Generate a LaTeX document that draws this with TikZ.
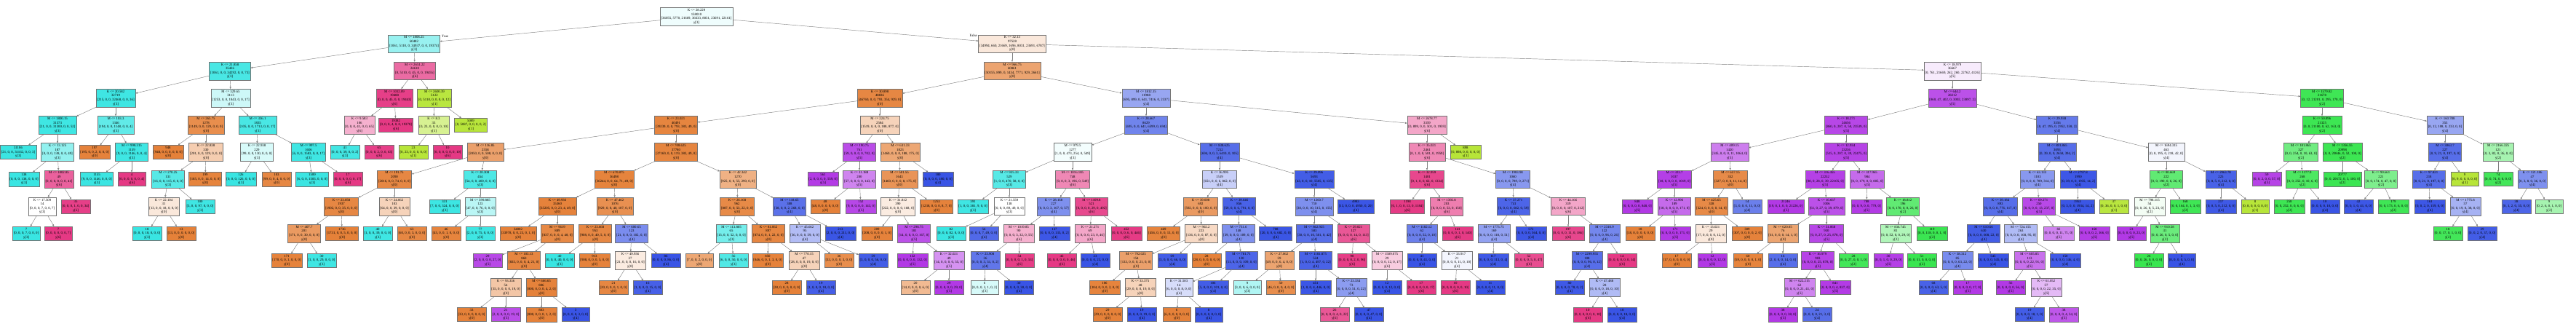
\documentclass[tikz,border=0pt]{standalone}
\usepackage{fontspec}
\setmainfont{Liberation Serif}
\usepackage{tikz}
\usetikzlibrary{arrows.meta}
\definecolor{dtc0}{RGB}{229,129,57}
\definecolor{dtc1}{RGB}{183,229,57}
\definecolor{dtc2}{RGB}{57,229,80}
\definecolor{dtc3}{RGB}{57,229,226}
\definecolor{dtc4}{RGB}{57,84,229}
\definecolor{dtc5}{RGB}{178,57,229}
\definecolor{dtc6}{RGB}{229,57,132}
\newcommand{\splitlbl}[4]{#1\\#2\\{[#3]}\\y[#4]}
\newcommand{\leaflbl}[3]{#1\\{[#2]}\\y[#3]}
\tikzset{
    dtbox/.style={rectangle, draw=black!55, line width=0.4pt, align=center, inner xsep=1.6pt, inner ysep=1.8pt, font=\fontsize{4.8}{5.6}\selectfont},
    tint/.style 2 args={fill=dtc#1!#2},
    dtedge/.style={draw=black!50, line width=0.45pt, -{Triangle[length=2.6pt,width=2.2pt]}},
    sidelbl/.style={font=\fontsize{4.8}{5.6}\selectfont, inner sep=0pt},
}
\begin{document}
\begin{tikzpicture}[x=1pt, y=-37.2pt]
\useasboundingbox (0,-0.618) rectangle (3540,11.64);

% root
\node[dtbox, tint={3}{8}] (n) at (957,0) {\splitlbl{K <= 28.229}{158010}{36055, 5770, 21669, 36633, 8031, 23691, 22161}{3}};

% ---- True branch
\node[dtbox, tint={3}{52}] (nl) at (569,1) {\splitlbl{M <= 1808.25}{60482}{1061, 5110, 0, 34937, 0, 0, 19374}{3}};
\node[dtbox, tint={3}{92}] (nll) at (316,2) {\splitlbl{K <= 21.858}{35426}{1061, 0, 0, 34292, 0, 0, 73}{3}};
\node[dtbox, tint={3}{97}] (nlll) at (159,3) {\splitlbl{K <= 20.582}{32719}{215, 0, 0, 32468, 0, 0, 36}{3}};
\node[dtbox, tint={3}{97}] (nllll) at (79,4) {\splitlbl{M <= 1800.15}{31373}{21, 0, 0, 31300, 0, 0, 52}{3}};
\node[dtbox, tint={3}{99}] (nlllll) at (25,5) {\leaflbl{31186}{21, 0, 0, 31162, 0, 0, 3}{3}};
\node[dtbox, tint={3}{55}] (nllllr) at (79,5) {\splitlbl{K <= 13.125}{187}{0, 0, 0, 138, 0, 0, 49}{3}};
\node[dtbox, tint={3}{100}] (nllllrl) at (33,6) {\leaflbl{138}{0, 0, 0, 138, 0, 0, 0}{3}};
\node[dtbox, tint={6}{80}] (nllllrr) at (81,6) {\splitlbl{M <= 1802.85}{49}{0, 0, 0, 8, 0, 0, 41}{6}};
\node[dtbox, fill=white] (nllllrrl) at (58,7) {\splitlbl{K <= 17.509}{14}{0, 0, 0, 7, 0, 0, 7}{3}};
\node[dtbox, tint={3}{100}] (nllllrrll) at (36,8) {\leaflbl{7}{0, 0, 0, 7, 0, 0, 0}{3}};
\node[dtbox, tint={6}{100}] (nllllrrlr) at (80,8) {\leaflbl{7}{0, 0, 0, 0, 0, 0, 7}{6}};
\node[dtbox, tint={6}{97}] (nllllrrr) at (104,7) {\leaflbl{35}{0, 0, 0, 1, 0, 0, 34}{6}};
\node[dtbox, tint={3}{80}] (nlllr) at (159,4) {\splitlbl{M <= 103.3}{1346}{194, 0, 0, 1148, 0, 0, 4}{3}};
\node[dtbox, tint={0}{99}] (nlllrl) at (130,5) {\leaflbl{197}{195, 0, 0, 2, 0, 0, 0}{0}};
\node[dtbox, tint={3}{97}] (nlllrr) at (181,5) {\splitlbl{M <= 998.315}{1159}{9, 0, 0, 1146, 0, 0, 4}{3}};
\node[dtbox, tint={3}{99}] (nlllrrl) at (133,6) {\leaflbl{1155}{9, 0, 0, 1146, 0, 0, 0}{3}};
\node[dtbox, tint={6}{100}] (nlllrrr) at (181,6) {\leaflbl{4}{0, 0, 0, 0, 0, 0, 4}{6}};
\node[dtbox, tint={3}{25}] (nllr) at (317,3) {\splitlbl{M <= 329.65}{3113}{1253, 0, 0, 1843, 0, 0, 17}{3}};
\node[dtbox, tint={0}{90}] (nllrl) at (283,4) {\splitlbl{M <= 265.75}{1278}{1149, 0, 0, 129, 0, 0, 0}{0}};
\node[dtbox, tint={0}{100}] (nllrll) at (231,5) {\leaflbl{948}{948, 0, 0, 0, 0, 0, 0}{0}};
\node[dtbox, tint={0}{40}] (nllrlr) at (283,5) {\splitlbl{K <= 22.838}{330}{201, 0, 0, 129, 0, 0, 0}{0}};
\node[dtbox, tint={3}{85}] (nllrlrl) at (231,6) {\splitlbl{M <= 270.25}{131}{16, 0, 0, 115, 0, 0, 0}{3}};
\node[dtbox, tint={0}{18}] (nllrlrll) at (225,7) {\splitlbl{K <= 22.104}{31}{13, 0, 0, 18, 0, 0, 0}{0}};
\node[dtbox, tint={3}{100}] (nllrlrlll) at (202,8) {\leaflbl{18}{0, 0, 0, 18, 0, 0, 0}{3}};
\node[dtbox, tint={0}{100}] (nllrlrllr) at (249,8) {\leaflbl{13}{13, 0, 0, 0, 0, 0, 0}{0}};
\node[dtbox, tint={3}{97}] (nllrlrlr) at (275,7) {\leaflbl{100}{3, 0, 0, 97, 0, 0, 0}{3}};
\node[dtbox, tint={0}{98}] (nllrlrr) at (282,6) {\leaflbl{199}{185, 0, 0, 14, 0, 0, 0}{0}};
\node[dtbox, tint={3}{92}] (nllrr) at (354,4) {\splitlbl{M <= 336.1}{1835}{105, 0, 0, 1713, 0, 0, 17}{3}};
\node[dtbox, tint={3}{20}] (nllrrl) at (353,5) {\splitlbl{K <= 22.938}{229}{99, 0, 0, 130, 0, 0, 0}{3}};
\node[dtbox, tint={3}{100}] (nllrrll) at (331,6) {\leaflbl{126}{0, 0, 0, 126, 0, 0, 0}{3}};
\node[dtbox, tint={0}{95}] (nllrrlr) at (380,6) {\leaflbl{103}{99, 0, 0, 4, 0, 0, 0}{0}};
\node[dtbox, tint={3}{97}] (nllrrr) at (424,5) {\splitlbl{M <= 997.5}{1606}{6, 0, 0, 1583, 0, 0, 17}{3}};
\node[dtbox, tint={3}{99}] (nllrrrl) at (429,6) {\leaflbl{1589}{6, 0, 0, 1583, 0, 0, 0}{3}};
\node[dtbox, tint={6}{100}] (nllrrrr) at (478,6) {\leaflbl{17}{0, 0, 0, 0, 0, 0, 17}{6}};
\node[dtbox, tint={6}{75}] (nlr) at (570,2) {\splitlbl{M <= 2651.22}{24610}{0, 5110, 0, 45, 0, 0, 19455}{6}};
\node[dtbox, tint={6}{97}] (nlrl) at (542,3) {\splitlbl{M <= 1012.09}{19488}{0, 0, 0, 45, 0, 0, 19443}{6}};
\node[dtbox, tint={6}{40}] (nlrll) at (494,4) {\splitlbl{K <= 9.583}{106}{0, 0, 0, 41, 0, 0, 65}{6}};
\node[dtbox, tint={3}{95}] (nlrlll) at (474,5) {\leaflbl{41}{0, 0, 0, 39, 0, 0, 2}{3}};
\node[dtbox, tint={6}{97}] (nlrllr) at (521,5) {\leaflbl{65}{0, 0, 0, 2, 0, 0, 63}{6}};
\node[dtbox, tint={6}{100}] (nlrlr) at (544,4) {\leaflbl{19382}{0, 0, 0, 4, 0, 0, 19378}{6}};
\node[dtbox, tint={1}{97}] (nlrr) at (597,3) {\splitlbl{M <= 2600.39}{5122}{0, 5110, 0, 0, 0, 0, 12}{1}};
\node[dtbox, tint={1}{55}] (nlrrl) at (596,4) {\splitlbl{K <= 8.3}{33}{0, 23, 0, 0, 0, 0, 10}{1}};
\node[dtbox, tint={1}{100}] (nlrrll) at (568,5) {\leaflbl{23}{0, 23, 0, 0, 0, 0, 0}{1}};
\node[dtbox, tint={6}{100}] (nlrrlr) at (615,5) {\leaflbl{10}{0, 0, 0, 0, 0, 0, 10}{6}};
\node[dtbox, tint={1}{99}] (nlrrr) at (647,4) {\leaflbl{5089}{0, 5087, 0, 0, 0, 0, 2}{1}};

% ---- False branch
\node[dtbox, tint={0}{18}] (nr) at (1391,1) {\splitlbl{K <= 32.13}{97528}{34994, 660, 21669, 1696, 8031, 23691, 6787}{0}};
\node[dtbox, tint={0}{72}] (nrl) at (1391,2) {\splitlbl{M <= 966.75}{60861}{50155, 899, 0, 1434, 7771, 929, 2661}{0}};
\node[dtbox, tint={0}{95}] (nrll) at (1209,3) {\splitlbl{K <= 30.898}{48836}{46760, 0, 0, 793, 354, 929, 0}{0}};
\node[dtbox, tint={0}{97}] (nrlll) at (929,4) {\splitlbl{K <= 23.021}{40491}{39239, 0, 0, 793, 383, 49, 0}{0}};
\node[dtbox, tint={0}{75}] (nrllll) at (667,5) {\splitlbl{M <= 116.85}{2558}{2050, 0, 0, 508, 0, 0, 0}{0}};
\node[dtbox, tint={0}{95}] (nrlllll) at (542,6) {\splitlbl{M <= 191.75}{2090}{2016, 0, 0, 74, 0, 0, 0}{0}};
\node[dtbox, tint={0}{95}] (nrllllll) at (469,7) {\splitlbl{K <= 23.058}{1937}{1902, 0, 0, 35, 0, 0, 0}{0}};
\node[dtbox, tint={0}{80}] (nrlllllll) at (418,8) {\splitlbl{M <= 407.7}{201}{171, 0, 0, 30, 0, 0, 0}{0}};
\node[dtbox, tint={0}{99}] (nrllllllll) at (394,9) {\leaflbl{171}{170, 0, 0, 1, 0, 0, 0}{0}};
\node[dtbox, tint={3}{97}] (nrlllllllr) at (442,9) {\leaflbl{30}{1, 0, 0, 29, 0, 0, 0}{3}};
\node[dtbox, tint={0}{100}] (nrllllllr) at (470,8) {\leaflbl{1736}{1731, 0, 0, 5, 0, 0, 0}{0}};
\node[dtbox, tint={0}{35}] (nrlllllr) at (542,7) {\splitlbl{K <= 24.062}{103}{64, 0, 0, 39, 0, 0, 0}{0}};
\node[dtbox, tint={3}{97}] (nrlllllrl) at (519,8) {\leaflbl{40}{1, 0, 0, 39, 0, 0, 0}{3}};
\node[dtbox, tint={0}{95}] (nrlllllrr) at (566,8) {\leaflbl{63}{60, 0, 0, 3, 0, 0, 0}{0}};
\node[dtbox, tint={3}{90}] (nrllllr) at (660,6) {\splitlbl{K <= 20.308}{454}{54, 0, 0, 400, 0, 0, 0}{3}};
\node[dtbox, tint={3}{98}] (nrllllrl) at (611,7) {\leaflbl{331}{7, 0, 0, 324, 0, 0, 0}{3}};
\node[dtbox, tint={3}{35}] (nrllllrr) at (660,7) {\splitlbl{M <= 399.885}{123}{47, 0, 0, 76, 0, 0, 0}{3}};
\node[dtbox, tint={0}{98}] (nrllllrrl) at (613,8) {\leaflbl{46}{45, 0, 0, 1, 0, 0, 0}{0}};
\node[dtbox, tint={3}{97}] (nrllllrrr) at (660,8) {\leaflbl{77}{2, 0, 0, 75, 0, 0, 0}{3}};
\node[dtbox, tint={0}{97}] (nrlllr) at (929,5) {\splitlbl{M <= 708.625}{37780}{37169, 0, 0, 119, 383, 49, 0}{0}};
\node[dtbox, tint={0}{98}] (nrlllrl) at (844,6) {\splitlbl{M <= 670.875}{36498}{36244, 0, 0, 64, 71, 49, 0}{0}};
\node[dtbox, tint={0}{99}] (nrlllrll) at (766,7) {\splitlbl{K <= 49.936}{35360}{35205, 0, 0, 23, 4, 49, 0}{0}};
\node[dtbox, tint={0}{100}] (nrlllrlll) at (712,8) {\leaflbl{34002}{33978, 0, 0, 23, 0, 1, 0}{0}};
\node[dtbox, tint={0}{94}] (nrlllrllr) at (766,8) {\splitlbl{M <= 9619}{889}{837, 0, 0, 0, 4, 48, 0}{0}};
\node[dtbox, tint={5}{92}] (nrlllrllrl) at (670,9) {\leaflbl{29}{2, 0, 0, 0, 0, 27, 0}{5}};
\node[dtbox, tint={0}{96}] (nrlllrllrr) at (720,9) {\splitlbl{M <= 103.13}{860}{835, 0, 0, 0, 4, 21, 0}{0}};
\node[dtbox, tint={0}{45}] (nrlllrllrrl) at (695,10) {\splitlbl{K <= 93.336}{54}{35, 0, 0, 0, 0, 19, 0}{0}};
\node[dtbox, tint={0}{100}] (nrlllrllrrll) at (648,11) {\leaflbl{33}{33, 0, 0, 0, 0, 0, 0}{0}};
\node[dtbox, tint={5}{90}] (nrlllrllrrlr) at (695,11) {\leaflbl{21}{2, 0, 0, 0, 0, 19, 0}{5}};
\node[dtbox, tint={0}{99}] (nrlllrllrrr) at (744,10) {\splitlbl{M <= 666.65}{806}{800, 0, 0, 0, 4, 2, 0}{0}};
\node[dtbox, tint={0}{100}] (nrlllrllrrrl) at (744,11) {\leaflbl{803}{800, 0, 0, 0, 1, 2, 0}{0}};
\node[dtbox, tint={4}{100}] (nrlllrllrrrr) at (791,11) {\leaflbl{3}{0, 0, 0, 0, 3, 0, 0}{4}};
\node[dtbox, tint={0}{88}] (nrlllrlr) at (845,7) {\splitlbl{K <= 47.462}{1076}{929, 0, 0, 40, 107, 0, 0}{0}};
\node[dtbox, tint={0}{95}] (nrlllrlrl) at (818,8) {\splitlbl{K <= 23.668}{953}{908, 0, 0, 40, 5, 0, 0}{0}};
\node[dtbox, tint={3}{100}] (nrlllrlrll) at (769,9) {\leaflbl{40}{0, 0, 0, 40, 0, 0, 0}{3}};
\node[dtbox, tint={0}{99}] (nrlllrlrlr) at (817,9) {\leaflbl{913}{908, 0, 0, 0, 5, 0, 0}{0}};
\node[dtbox, tint={4}{67}] (nrlllrlrr) at (868,8) {\splitlbl{M <= 600.65}{123}{21, 0, 0, 0, 102, 0, 0}{4}};
\node[dtbox, tint={0}{15}] (nrlllrlrrl) at (866,9) {\splitlbl{K <= 49.936}{37}{21, 0, 0, 0, 16, 0, 0}{0}};
\node[dtbox, tint={0}{95}] (nrlllrlrrll) at (843,10) {\leaflbl{21}{20, 0, 0, 0, 1, 0, 0}{0}};
\node[dtbox, tint={4}{93}] (nrlllrlrrlr) at (890,10) {\leaflbl{16}{1, 0, 0, 0, 15, 0, 0}{4}};
\node[dtbox, tint={4}{100}] (nrlllrlrrr) at (915,9) {\leaflbl{86}{0, 0, 0, 0, 86, 0, 0}{4}};
\node[dtbox, tint={0}{62}] (nrlllrr) at (1014,6) {\splitlbl{K <= 42.342}{1270}{925, 0, 0, 55, 290, 0, 0}{0}};
\node[dtbox, tint={0}{93}] (nrlllrrl) at (1013,7) {\splitlbl{K <= 26.168}{962}{887, 0, 0, 53, 22, 0, 0}{0}};
\node[dtbox, tint={3}{70}] (nrlllrrll) at (1005,8) {\splitlbl{M <= 113.805}{65}{13, 0, 0, 52, 0, 0, 0}{3}};
\node[dtbox, tint={0}{70}] (nrlllrrlll) at (961,9) {\leaflbl{9}{7, 0, 0, 2, 0, 0, 0}{0}};
\node[dtbox, tint={3}{88}] (nrlllrrllr) at (1008,9) {\leaflbl{56}{6, 0, 0, 50, 0, 0, 0}{3}};
\node[dtbox, tint={0}{96}] (nrlllrrlr) at (1056,8) {\splitlbl{K <= 81.062}{897}{874, 0, 0, 1, 22, 0, 0}{0}};
\node[dtbox, tint={0}{99}] (nrlllrrlrl) at (1055,9) {\leaflbl{850}{846, 0, 0, 1, 3, 0, 0}{0}};
\node[dtbox, tint={0}{35}] (nrlllrrlrr) at (1105,9) {\splitlbl{M <= 770.15}{47}{28, 0, 0, 0, 19, 0, 0}{0}};
\node[dtbox, tint={0}{100}] (nrlllrrlrrl) at (1081,10) {\leaflbl{28}{28, 0, 0, 0, 0, 0, 0}{0}};
\node[dtbox, tint={4}{94}] (nrlllrrlrrr) at (1128,10) {\leaflbl{19}{1, 0, 0, 0, 18, 0, 0}{4}};
\node[dtbox, tint={4}{83}] (nrlllrrr) at (1085,7) {\splitlbl{M <= 118.65}{308}{38, 0, 0, 2, 268, 0, 0}{4}};
\node[dtbox, tint={4}{39}] (nrlllrrrl) at (1106,8) {\splitlbl{K <= 45.662}{95}{36, 0, 0, 0, 59, 0, 0}{4}};
\node[dtbox, tint={0}{90}] (nrlllrrrll) at (1153,9) {\leaflbl{36}{33, 0, 0, 0, 3, 0, 0}{0}};
\node[dtbox, tint={4}{95}] (nrlllrrrlr) at (1200,9) {\leaflbl{59}{3, 0, 0, 0, 56, 0, 0}{4}};
\node[dtbox, tint={4}{99}] (nrlllrrrr) at (1155,8) {\leaflbl{213}{2, 0, 0, 0, 211, 0, 0}{4}};
\node[dtbox, tint={0}{35}] (nrllr) at (1209,4) {\splitlbl{M <= 224.75}{2584}{1519, 0, 0, 0, 188, 877, 0}{0}};
\node[dtbox, tint={5}{90}] (nrllrl) at (1181,5) {\splitlbl{M <= 190.75}{761}{59, 0, 0, 0, 0, 702, 0}{5}};
\node[dtbox, tint={5}{99}] (nrllrll) at (1131,6) {\leaflbl{561}{2, 0, 0, 0, 0, 559, 0}{5}};
\node[dtbox, tint={5}{62}] (nrllrlr) at (1181,6) {\splitlbl{K <= 31.188}{200}{57, 0, 0, 0, 0, 143, 0}{5}};
\node[dtbox, tint={0}{100}] (nrllrlrl) at (1134,7) {\leaflbl{48}{48, 0, 0, 0, 0, 0, 0}{0}};
\node[dtbox, tint={5}{93}] (nrllrlrr) at (1183,7) {\leaflbl{152}{9, 0, 0, 0, 0, 143, 0}{5}};
\node[dtbox, tint={0}{70}] (nrllrr) at (1237,5) {\splitlbl{M <= 631.33}{1823}{1460, 0, 0, 0, 188, 175, 0}{0}};
\node[dtbox, tint={0}{85}] (nrllrrl) at (1236,6) {\splitlbl{M <= 501.55}{1643}{1460, 0, 0, 0, 8, 175, 0}{0}};
\node[dtbox, tint={0}{15}] (nrllrrll) at (1234,7) {\splitlbl{K <= 31.812}{390}{222, 0, 0, 0, 0, 168, 0}{0}};
\node[dtbox, tint={0}{99}] (nrllrrlll) at (1205,8) {\leaflbl{209}{208, 0, 0, 0, 0, 1, 0}{0}};
\node[dtbox, tint={5}{88}] (nrllrrllr) at (1256,8) {\splitlbl{M <= 298.75}{181}{14, 0, 0, 0, 0, 167, 0}{5}};
\node[dtbox, tint={5}{100}] (nrllrrllrl) at (1254,9) {\leaflbl{132}{0, 0, 0, 0, 0, 132, 0}{5}};
\node[dtbox, tint={5}{55}] (nrllrrllrr) at (1304,9) {\splitlbl{K <= 32.021}{49}{14, 0, 0, 0, 0, 35, 0}{5}};
\node[dtbox, tint={0}{55}] (nrllrrllrrl) at (1258,10) {\leaflbl{20}{14, 0, 0, 0, 0, 6, 0}{0}};
\node[dtbox, tint={5}{100}] (nrllrrllrrr) at (1304,10) {\leaflbl{29}{0, 0, 0, 0, 0, 29, 0}{5}};
\node[dtbox, tint={0}{99}] (nrllrrlr) at (1287,7) {\leaflbl{1253}{1238, 0, 0, 0, 8, 7, 0}{0}};
\node[dtbox, tint={4}{100}] (nrllrrr) at (1289,6) {\leaflbl{180}{0, 0, 0, 0, 180, 0, 0}{4}};

\node[dtbox, tint={4}{52}] (nrlr) at (1575,3) {\splitlbl{M <= 1812.15}{11988}{695, 899, 0, 641, 7416, 0, 2337}{4}};
\node[dtbox, tint={4}{72}] (nrlrl) at (1575,4) {\splitlbl{K <= 28.667}{8629}{695, 0, 0, 641, 6599, 0, 694}{4}};
\node[dtbox, tint={3}{6}] (nrlrll) at (1474,5) {\splitlbl{M <= 979.5}{1277}{1, 0, 0, 473, 254, 0, 549}{3}};
\node[dtbox, tint={3}{85}] (nrlrlll) at (1387,6) {\splitlbl{M <= 935.33}{529}{1, 0, 0, 470, 58, 0, 0}{3}};
\node[dtbox, tint={3}{97}] (nrlrllll) at (1337,7) {\leaflbl{391}{1, 0, 0, 381, 9, 0, 0}{3}};
\node[dtbox, fill=white] (nrlrlllr) at (1387,7) {\splitlbl{K <= 21.559}{138}{0, 0, 0, 89, 49, 0, 0}{3}};
\node[dtbox, tint={3}{100}] (nrlrlllrl) at (1307,8) {\leaflbl{82}{0, 0, 0, 82, 0, 0, 0}{3}};
\node[dtbox, tint={4}{88}] (nrlrlllrr) at (1352,8) {\leaflbl{56}{0, 0, 0, 7, 49, 0, 0}{4}};
\node[dtbox, tint={6}{60}] (nrlrllr) at (1474,6) {\splitlbl{M <= 1016.185}{748}{0, 0, 0, 3, 196, 0, 549}{6}};
\node[dtbox, tint={4}{65}] (nrlrllrl) at (1448,7) {\splitlbl{K <= 28.168}{227}{0, 0, 0, 3, 167, 0, 57}{4}};
\node[dtbox, tint={6}{40}] (nrlrllrll) at (1400,8) {\splitlbl{M <= 1019.85}{90}{0, 0, 0, 3, 32, 0, 55}{6}};
\node[dtbox, tint={4}{80}] (nrlrllrlll) at (1354,9) {\splitlbl{K <= 23.908}{36}{0, 0, 0, 3, 31, 0, 2}{4}};
\node[dtbox, tint={3}{20}] (nrlrllrllll) at (1353,10) {\leaflbl{6}{0, 0, 0, 3, 1, 0, 2}{3}};
\node[dtbox, tint={4}{100}] (nrlrllrlllr) at (1400,10) {\leaflbl{30}{0, 0, 0, 0, 30, 0, 0}{4}};
\node[dtbox, tint={6}{98}] (nrlrllrllr) at (1401,9) {\leaflbl{54}{0, 0, 0, 0, 1, 0, 53}{6}};
\node[dtbox, tint={4}{98}] (nrlrllrlr) at (1449,8) {\leaflbl{137}{0, 0, 0, 0, 135, 0, 2}{4}};
\node[dtbox, tint={6}{92}] (nrlrllrr) at (1500,7) {\splitlbl{M <= 1109.8}{521}{0, 0, 0, 0, 29, 0, 492}{6}};
\node[dtbox, tint={6}{45}] (nrlrllrrl) at (1498,8) {\splitlbl{K <= 21.271}{69}{0, 0, 0, 0, 23, 0, 46}{6}};
\node[dtbox, tint={6}{100}] (nrlrllrrll) at (1459,9) {\leaflbl{46}{0, 0, 0, 0, 0, 0, 46}{6}};
\node[dtbox, tint={4}{100}] (nrlrllrrlr) at (1505,9) {\leaflbl{23}{0, 0, 0, 0, 23, 0, 0}{4}};
\node[dtbox, tint={6}{99}] (nrlrllrrr) at (1548,8) {\leaflbl{452}{0, 0, 0, 0, 6, 0, 446}{6}};
\node[dtbox, tint={4}{85}] (nrlrlr) at (1676,5) {\splitlbl{M <= 838.625}{7212}{694, 0, 0, 3, 6410, 0, 105}{4}};
\node[dtbox, tint={4}{28}] (nrlrlrl) at (1676,6) {\splitlbl{K <= 36.995}{1519}{651, 0, 0, 6, 862, 0, 0}{4}};
\node[dtbox, tint={0}{80}] (nrlrlrll) at (1650,7) {\splitlbl{K <= 39.008}{692}{592, 0, 0, 0, 100, 0, 0}{0}};
\node[dtbox, tint={0}{98}] (nrlrlrlll) at (1599,8) {\leaflbl{469}{456, 0, 0, 0, 13, 0, 0}{0}};
\node[dtbox, tint={0}{30}] (nrlrlrllr) at (1651,8) {\splitlbl{M <= 902.2}{223}{136, 0, 0, 0, 87, 0, 0}{0}};
\node[dtbox, tint={0}{75}] (nrlrlrllrl) at (1561,9) {\splitlbl{M <= 792.025}{154}{133, 0, 0, 0, 21, 0, 0}{0}};
\node[dtbox, tint={0}{98}] (nrlrlrllrll) at (1518,10) {\leaflbl{106}{104, 0, 0, 0, 2, 0, 0}{0}};
\node[dtbox, tint={0}{35}] (nrlrlrllrlr) at (1567,10) {\splitlbl{K <= 33.375}{48}{29, 0, 0, 0, 19, 0, 0}{0}};
\node[dtbox, tint={0}{100}] (nrlrlrllrlrl) at (1522,11) {\leaflbl{29}{29, 0, 0, 0, 0, 0, 0}{0}};
\node[dtbox, tint={4}{100}] (nrlrlrllrlrr) at (1569,11) {\leaflbl{19}{0, 0, 0, 0, 19, 0, 0}{4}};
\node[dtbox, tint={4}{95}] (nrlrlrllrr) at (1611,9) {\leaflbl{69}{3, 0, 0, 0, 66, 0, 0}{4}};
\node[dtbox, tint={4}{92}] (nrlrlrlr) at (1703,7) {\splitlbl{K <= 39.646}{856}{59, 0, 0, 6, 791, 0, 0}{4}};
\node[dtbox, tint={4}{65}] (nrlrlrlrl) at (1702,8) {\splitlbl{M <= 731.6}{148}{39, 0, 0, 0, 109, 0, 0}{4}};
\node[dtbox, tint={0}{100}] (nrlrlrlrll) at (1658,9) {\leaflbl{28}{28, 0, 0, 0, 0, 0, 0}{0}};
\node[dtbox, tint={4}{90}] (nrlrlrlrlr) at (1706,9) {\splitlbl{M <= 781.71}{120}{11, 0, 0, 0, 109, 0, 0}{4}};
\node[dtbox, tint={4}{20}] (nrlrlrlrlrl) at (1620,10) {\splitlbl{K <= 31.503}{14}{6, 0, 0, 0, 8, 0, 0}{4}};
\node[dtbox, tint={0}{100}] (nrlrlrlrlrll) at (1617,11) {\leaflbl{6}{6, 0, 0, 0, 0, 0, 0}{0}};
\node[dtbox, tint={4}{100}] (nrlrlrlrlrlr) at (1661,11) {\leaflbl{8}{0, 0, 0, 0, 8, 0, 0}{4}};
\node[dtbox, tint={4}{95}] (nrlrlrlrlrr) at (1667,10) {\leaflbl{106}{5, 0, 0, 0, 101, 0, 0}{4}};
\node[dtbox, tint={4}{99}] (nrlrlrlrr) at (1753,8) {\leaflbl{708}{20, 0, 0, 6, 682, 0, 0}{4}};
\node[dtbox, tint={4}{95}] (nrlrlrr) at (1806,6) {\splitlbl{K <= 29.096}{5693}{43, 0, 0, 10, 5505, 0, 135}{4}};
\node[dtbox, tint={4}{65}] (nrlrlrrl) at (1806,7) {\splitlbl{M <= 1260.7}{710}{30, 0, 0, 10, 515, 0, 155}{4}};
\node[dtbox, tint={4}{85}] (nrlrlrrll) at (1806,8) {\splitlbl{M <= 862.925}{583}{30, 0, 0, 10, 501, 0, 42}{4}};
\node[dtbox, tint={0}{72}] (nrlrlrrlll) at (1758,9) {\splitlbl{K <= 27.062}{59}{49, 0, 0, 6, 4, 0, 0}{0}};
\node[dtbox, tint={3}{40}] (nrlrlrrllll) at (1714,10) {\leaflbl{9}{3, 0, 0, 6, 0, 0, 0}{3}};
\node[dtbox, tint={0}{90}] (nrlrlrrlllr) at (1760,10) {\leaflbl{50}{46, 0, 0, 0, 4, 0, 0}{0}};
\node[dtbox, tint={4}{92}] (nrlrlrrllr) at (1808,9) {\splitlbl{M <= 1181.875}{524}{1, 0, 0, 4, 497, 0, 22}{4}};
\node[dtbox, tint={4}{99}] (nrlrlrrllrl) at (1808,10) {\leaflbl{451}{1, 0, 0, 4, 446, 0, 0}{4}};
\node[dtbox, tint={4}{58}] (nrlrlrrllrr) at (1857,10) {\splitlbl{K <= 23.334}{73}{0, 0, 0, 0, 51, 0, 22}{4}};
\node[dtbox, tint={6}{85}] (nrlrlrrllrrl) at (1834,11) {\leaflbl{26}{0, 0, 0, 0, 4, 0, 22}{6}};
\node[dtbox, tint={4}{100}] (nrlrlrrllrrr) at (1881,11) {\leaflbl{47}{0, 0, 0, 0, 47, 0, 0}{4}};
\node[dtbox, tint={6}{85}] (nrlrlrrlr) at (1860,8) {\splitlbl{K <= 29.821}{127}{0, 0, 0, 0, 14, 0, 113}{6}};
\node[dtbox, tint={6}{98}] (nrlrlrrlrl) at (1858,9) {\leaflbl{98}{0, 0, 0, 0, 2, 0, 96}{6}};
\node[dtbox, tint={6}{25}] (nrlrlrrlrr) at (1906,9) {\splitlbl{M <= 1509.075}{29}{0, 0, 0, 0, 12, 0, 17}{6}};
\node[dtbox, tint={4}{100}] (nrlrlrrlrrl) at (1906,10) {\leaflbl{12}{0, 0, 0, 0, 12, 0, 0}{4}};
\node[dtbox, tint={6}{100}] (nrlrlrrlrrr) at (1953,10) {\leaflbl{17}{0, 0, 0, 0, 0, 0, 17}{6}};
\node[dtbox, tint={4}{99}] (nrlrlrrr) at (1863,7) {\leaflbl{4983}{13, 0, 0, 0, 4950, 0, 20}{4}};
\node[dtbox, tint={6}{45}] (nrlrr) at (1961,4) {\splitlbl{M <= 2678.77}{3359}{0, 899, 0, 0, 501, 0, 1959}{6}};
\node[dtbox, tint={6}{60}] (nrlrrl) at (1961,5) {\splitlbl{K <= 35.021}{2461}{0, 1, 0, 0, 501, 0, 1959}{6}};
\node[dtbox, tint={6}{93}] (nrlrrll) at (1961,6) {\splitlbl{K <= 32.959}{1401}{0, 1, 0, 0, 66, 0, 1334}{6}};
\node[dtbox, tint={6}{99}] (nrlrrlll) at (1934,7) {\leaflbl{1198}{0, 1, 0, 0, 13, 0, 1184}{6}};
\node[dtbox, tint={6}{65}] (nrlrrllr) at (1988,7) {\splitlbl{M <= 1392.8}{203}{0, 0, 0, 0, 53, 0, 150}{6}};
\node[dtbox, tint={4}{75}] (nrlrrllrl) at (1954,8) {\splitlbl{M <= 1182.12}{62}{0, 0, 0, 0, 52, 0, 10}{4}};
\node[dtbox, tint={4}{100}] (nrlrrllrll) at (1954,9) {\leaflbl{41}{0, 0, 0, 0, 41, 0, 0}{4}};
\node[dtbox, tint={4}{6}] (nrlrrllrlr) at (2002,9) {\splitlbl{K <= 33.917}{21}{0, 0, 0, 0, 11, 0, 10}{4}};
\node[dtbox, tint={6}{100}] (nrlrrllrlrl) at (2000,10) {\leaflbl{10}{0, 0, 0, 0, 0, 0, 10}{6}};
\node[dtbox, tint={4}{100}] (nrlrrllrlrr) at (2048,10) {\leaflbl{11}{0, 0, 0, 0, 11, 0, 0}{4}};
\node[dtbox, tint={6}{99}] (nrlrrllrr) at (2003,8) {\leaflbl{141}{0, 0, 0, 0, 1, 0, 140}{6}};
\node[dtbox, tint={4}{60}] (nrlrrlr) at (2079,6) {\splitlbl{M <= 1983.98}{1060}{0, 0, 0, 0, 789, 0, 271}{4}};
\node[dtbox, tint={4}{90}] (nrlrrlrl) at (2080,7) {\splitlbl{K <= 37.271}{741}{0, 0, 0, 0, 682, 0, 59}{4}};
\node[dtbox, tint={4}{55}] (nrlrrlrll) at (2053,8) {\splitlbl{M <= 1773.75}{169}{0, 0, 0, 0, 118, 0, 51}{4}};
\node[dtbox, tint={4}{97}] (nrlrrlrlll) at (2052,9) {\leaflbl{117}{0, 0, 0, 0, 113, 0, 4}{4}};
\node[dtbox, tint={6}{90}] (nrlrrlrllr) at (2101,9) {\leaflbl{52}{0, 0, 0, 0, 5, 0, 47}{6}};
\node[dtbox, tint={4}{98}] (nrlrrlrlr) at (2104,8) {\leaflbl{572}{0, 0, 0, 0, 564, 0, 8}{4}};
\node[dtbox, tint={6}{45}] (nrlrrlrr) at (2155,7) {\splitlbl{K <= 44.166}{319}{0, 0, 0, 0, 107, 0, 212}{6}};
\node[dtbox, tint={6}{93}] (nrlrrlrrl) at (2155,8) {\leaflbl{197}{0, 0, 0, 0, 11, 0, 186}{6}};
\node[dtbox, tint={4}{70}] (nrlrrlrrr) at (2205,8) {\splitlbl{M <= 2310.9}{122}{0, 0, 0, 0, 96, 0, 26}{4}};
\node[dtbox, tint={4}{85}] (nrlrrlrrrl) at (2181,9) {\splitlbl{M <= 2299.955}{108}{0, 0, 0, 0, 96, 0, 12}{4}};
\node[dtbox, tint={4}{97}] (nrlrrlrrrll) at (2157,10) {\leaflbl{80}{0, 0, 0, 0, 78, 0, 2}{4}};
\node[dtbox, tint={4}{40}] (nrlrrlrrrlr) at (2205,10) {\splitlbl{K <= 47.488}{28}{0, 0, 0, 0, 18, 0, 10}{4}};
\node[dtbox, tint={6}{100}] (nrlrrlrrrlrl) at (2182,11) {\leaflbl{10}{0, 0, 0, 0, 0, 0, 10}{6}};
\node[dtbox, tint={4}{100}] (nrlrrlrrrlrr) at (2229,11) {\leaflbl{18}{0, 0, 0, 0, 18, 0, 0}{4}};
\node[dtbox, tint={6}{100}] (nrlrrlrrrr) at (2229,9) {\leaflbl{14}{0, 0, 0, 0, 0, 0, 14}{6}};
\node[dtbox, tint={1}{100}] (nrlrrr) at (2014,5) {\leaflbl{898}{0, 898, 0, 0, 0, 0, 0}{1}};

\node[dtbox, tint={5}{10}] (nrr) at (2683,2) {\splitlbl{K <= 18.979}{36667}{0, 761, 21669, 262, 260, 22762, 4126}{5}};
\node[dtbox, tint={5}{88}] (nrrl) at (2683,3) {\splitlbl{M <= 644.2}{28212}{860, 47, 402, 0, 3002, 23897, 2}{5}};
\node[dtbox, tint={5}{93}] (nrrll) at (2537,4) {\splitlbl{K <= 18.271}{24656}{860, 0, 207, 0, 50, 23539, 0}{5}};
\node[dtbox, tint={5}{65}] (nrrlll) at (2377,5) {\splitlbl{M <= 409.15}{1420}{345, 0, 0, 0, 11, 1064, 0}{5}};
\node[dtbox, tint={5}{97}] (nrrllll) at (2301,6) {\splitlbl{M <= 323.7}{1037}{18, 0, 0, 0, 0, 1019, 0}{5}};
\node[dtbox, tint={5}{100}] (nrrlllll) at (2250,7) {\leaflbl{848}{0, 0, 0, 0, 0, 848, 0}{5}};
\node[dtbox, tint={5}{75}] (nrrllllr) at (2301,7) {\splitlbl{K <= 12.996}{189}{18, 0, 0, 0, 0, 171, 0}{5}};
\node[dtbox, tint={0}{100}] (nrrllllrl) at (2254,8) {\leaflbl{18}{18, 0, 0, 0, 0, 0, 0}{0}};
\node[dtbox, tint={5}{100}] (nrrllllrr) at (2302,8) {\leaflbl{171}{0, 0, 0, 0, 0, 171, 0}{5}};
\node[dtbox, tint={0}{92}] (nrrlllr) at (2378,6) {\splitlbl{M <= 657.15}{352}{327, 0, 0, 0, 11, 14, 0}{0}};
\node[dtbox, tint={0}{93}] (nrrlllrl) at (2352,7) {\splitlbl{M <= 425.65}{338}{324, 0, 0, 0, 0, 14, 0}{0}};
\node[dtbox, tint={0}{18}] (nrrlllrll) at (2351,8) {\splitlbl{K <= 13.021}{29}{17, 0, 0, 0, 0, 12, 0}{0}};
\node[dtbox, tint={0}{100}] (nrrlllrlll) at (2304,9) {\leaflbl{17}{17, 0, 0, 0, 0, 0, 0}{0}};
\node[dtbox, tint={5}{100}] (nrrlllrllr) at (2353,9) {\leaflbl{12}{0, 0, 0, 0, 0, 12, 0}{5}};
\node[dtbox, tint={0}{99}] (nrrlllrlr) at (2401,8) {\leaflbl{309}{307, 0, 0, 0, 0, 2, 0}{0}};
\node[dtbox, tint={4}{75}] (nrrlllrr) at (2401,7) {\leaflbl{14}{3, 0, 0, 0, 11, 0, 0}{4}};
\node[dtbox, tint={5}{95}] (nrrllr) at (2537,5) {\splitlbl{K <= 12.934}{23236}{515, 0, 207, 0, 39, 22475, 0}{5}};
\node[dtbox, tint={5}{96}] (nrrllrl) at (2508,6) {\splitlbl{M <= 316.455}{22252}{80, 0, 28, 0, 39, 22105, 0}{5}};
\node[dtbox, tint={5}{100}] (nrrllrll) at (2454,7) {\leaflbl{21246}{19, 0, 1, 0, 0, 21226, 0}{5}};
\node[dtbox, tint={5}{88}] (nrrllrlr) at (2510,7) {\splitlbl{K <= 16.667}{1006}{61, 0, 27, 0, 39, 879, 0}{5}};
\node[dtbox, tint={0}{72}] (nrrllrlrl) at (2450,8) {\splitlbl{M <= 620.05}{76}{61, 0, 0, 0, 14, 1, 0}{0}};
\node[dtbox, tint={0}{98}] (nrrllrlrll) at (2402,9) {\leaflbl{60}{59, 0, 0, 0, 0, 1, 0}{0}};
\node[dtbox, tint={4}{85}] (nrrllrlrlr) at (2450,9) {\leaflbl{16}{2, 0, 0, 0, 14, 0, 0}{4}};
\node[dtbox, tint={5}{93}] (nrrllrlrr) at (2510,8) {\splitlbl{K <= 31.868}{930}{0, 0, 27, 0, 25, 878, 0}{5}};
\node[dtbox, tint={5}{95}] (nrrllrlrrl) at (2498,9) {\splitlbl{K <= 16.979}{903}{0, 0, 0, 0, 25, 878, 0}{5}};
\node[dtbox, tint={5}{62}] (nrrllrlrrll) at (2473,10) {\splitlbl{M <= 622.215}{62}{0, 0, 0, 0, 21, 41, 0}{5}};
\node[dtbox, tint={5}{100}] (nrrllrlrrlll) at (2450,11) {\leaflbl{38}{0, 0, 0, 0, 0, 38, 0}{5}};
\node[dtbox, tint={4}{85}] (nrrllrlrrllr) at (2497,11) {\leaflbl{24}{0, 0, 0, 0, 21, 3, 0}{4}};
\node[dtbox, tint={5}{99}] (nrrllrlrrlr) at (2522,10) {\leaflbl{841}{0, 0, 0, 0, 4, 837, 0}{5}};
\node[dtbox, tint={2}{95}] (nrrllrlrrr) at (2547,9) {\leaflbl{28}{0, 0, 27, 0, 0, 1, 0}{2}};
\node[dtbox, tint={5}{75}] (nrrllrr) at (2566,6) {\splitlbl{M <= 317.965}{984}{0, 0, 179, 0, 0, 805, 0}{5}};
\node[dtbox, tint={5}{99}] (nrrllrrl) at (2565,7) {\leaflbl{788}{0, 0, 9, 0, 0, 779, 0}{5}};
\node[dtbox, tint={2}{80}] (nrrllrrr) at (2615,7) {\splitlbl{K <= 18.812}{196}{0, 0, 170, 0, 0, 26, 0}{2}};
\node[dtbox, tint={2}{40}] (nrrllrrrl) at (2605,8) {\splitlbl{M <= 836.745}{81}{0, 0, 52, 0, 0, 29, 0}{2}};
\node[dtbox, tint={5}{97}] (nrrllrrrll) at (2595,9) {\leaflbl{30}{0, 0, 1, 0, 0, 29, 0}{5}};
\node[dtbox, tint={2}{100}] (nrrllrrrlr) at (2641,9) {\leaflbl{51}{0, 0, 51, 0, 0, 0, 0}{2}};
\node[dtbox, tint={2}{99}] (nrrllrrrr) at (2655,8) {\leaflbl{119}{0, 0, 118, 0, 0, 1, 0}{2}};
\node[dtbox, tint={4}{78}] (nrrlr) at (2827,4) {\splitlbl{K <= 29.938}{3556}{0, 47, 195, 0, 2952, 358, 2}{4}};
\node[dtbox, tint={4}{85}] (nrrlrl) at (2827,5) {\splitlbl{M <= 891.865}{3093}{0, 39, 0, 0, 2658, 394, 2}{4}};
\node[dtbox, tint={4}{60}] (nrrlrll) at (2800,6) {\splitlbl{K <= 63.133}{1103}{0, 0, 0, 0, 789, 314, 0}{4}};
\node[dtbox, tint={4}{85}] (nrrlrlll) at (2749,7) {\splitlbl{K <= 39.184}{893}{0, 0, 0, 0, 776, 117, 0}{4}};
\node[dtbox, tint={4}{95}] (nrrlrllll) at (2726,8) {\splitlbl{M <= 610.66}{630}{0, 0, 0, 0, 608, 22, 0}{4}};
\node[dtbox, tint={4}{68}] (nrrlrlllll) at (2690,9) {\splitlbl{K <= 38.312}{85}{0, 0, 0, 0, 63, 22, 0}{4}};
\node[dtbox, tint={4}{92}] (nrrlrllllll) at (2657,10) {\leaflbl{68}{0, 0, 0, 0, 63, 5, 0}{4}};
\node[dtbox, tint={5}{100}] (nrrlrlllllr) at (2704,10) {\leaflbl{17}{0, 0, 0, 0, 0, 17, 0}{5}};
\node[dtbox, tint={4}{100}] (nrrlrllllr) at (2739,9) {\leaflbl{545}{0, 0, 0, 0, 545, 0, 0}{4}};
\node[dtbox, tint={4}{40}] (nrrlrlllr) at (2777,8) {\splitlbl{M <= 724.155}{263}{0, 0, 0, 0, 168, 95, 0}{4}};
\node[dtbox, tint={5}{72}] (nrrlrlllrl) at (2789,9) {\splitlbl{M <= 605.85}{113}{0, 0, 0, 0, 22, 91, 0}{5}};
\node[dtbox, tint={5}{100}] (nrrlrlllrll) at (2763,10) {\leaflbl{56}{0, 0, 0, 0, 0, 56, 0}{5}};
\node[dtbox, tint={5}{35}] (nrrlrlllrlr) at (2812,10) {\splitlbl{K <= 61.052}{57}{0, 0, 0, 0, 22, 35, 0}{5}};
\node[dtbox, tint={4}{95}] (nrrlrlllrlrl) at (2789,11) {\leaflbl{19}{0, 0, 0, 0, 18, 1, 0}{4}};
\node[dtbox, tint={5}{85}] (nrrlrlllrlrr) at (2836,11) {\leaflbl{38}{0, 0, 0, 0, 4, 34, 0}{5}};
\node[dtbox, tint={4}{97}] (nrrlrlllrr) at (2838,9) {\leaflbl{150}{0, 0, 0, 0, 146, 4, 0}{4}};
\node[dtbox, tint={5}{92}] (nrrlrllr) at (2802,7) {\splitlbl{K <= 69.271}{250}{0, 0, 0, 0, 13, 237, 0}{5}};
\node[dtbox, tint={5}{62}] (nrrlrllrl) at (2829,8) {\leaflbl{82}{0, 0, 0, 0, 11, 71, 0}{5}};
\node[dtbox, tint={5}{98}] (nrrlrllrr) at (2878,8) {\leaflbl{168}{0, 0, 0, 0, 2, 166, 0}{5}};
\node[dtbox, tint={4}{98}] (nrrlrlr) at (2856,6) {\splitlbl{M <= 2797.8}{1990}{0, 39, 0, 0, 1935, 14, 2}{4}};
\node[dtbox, tint={4}{99}] (nrrlrlrl) at (2855,7) {\leaflbl{1953}{0, 3, 0, 0, 1934, 14, 2}{4}};
\node[dtbox, tint={1}{97}] (nrrlrlrr) at (2905,7) {\leaflbl{37}{0, 36, 0, 0, 1, 0, 0}{1}};
\node[dtbox, tint={4}{6}] (nrrlrr) at (2977,5) {\splitlbl{M <= 1694.315}{463}{0, 8, 195, 0, 218, 42, 0}{4}};
\node[dtbox, tint={2}{80}] (nrrlrrl) at (2977,6) {\splitlbl{K <= 80.669}{222}{0, 0, 190, 0, 6, 26, 0}{2}};
\node[dtbox, tint={2}{6}] (nrrlrrll) at (2954,7) {\splitlbl{M <= 798.115}{54}{0, 0, 26, 0, 5, 23, 0}{2}};
\node[dtbox, tint={5}{100}] (nrrlrrlll) at (2929,8) {\leaflbl{23}{0, 0, 0, 0, 0, 23, 0}{5}};
\node[dtbox, tint={2}{75}] (nrrlrrllr) at (2975,8) {\splitlbl{M <= 910.58}{31}{0, 0, 26, 0, 5, 0, 0}{2}};
\node[dtbox, tint={2}{100}] (nrrlrrllrl) at (2953,9) {\leaflbl{26}{0, 0, 26, 0, 0, 0, 0}{2}};
\node[dtbox, tint={4}{100}] (nrrlrrllrr) at (2998,9) {\leaflbl{5}{0, 0, 0, 0, 5, 0, 0}{4}};
\node[dtbox, tint={2}{97}] (nrrlrrlr) at (3003,7) {\leaflbl{168}{0, 0, 164, 0, 1, 3, 0}{2}};
\node[dtbox, tint={4}{92}] (nrrlrrr) at (3052,6) {\splitlbl{M <= 2963.78}{225}{0, 8, 5, 0, 212, 0, 0}{4}};
\node[dtbox, tint={4}{97}] (nrrlrrrl) at (3052,7) {\leaflbl{217}{0, 0, 5, 0, 212, 0, 0}{4}};
\node[dtbox, tint={1}{100}] (nrrlrrrr) at (3099,7) {\leaflbl{8}{0, 8, 0, 0, 0, 0, 0}{1}};
\node[dtbox, tint={2}{97}] (nrrr) at (3191,3) {\splitlbl{M <= 1579.82}{21678}{0, 12, 21201, 0, 295, 170, 0}{2}};
\node[dtbox, tint={2}{98}] (nrrrl) at (3191,4) {\splitlbl{K <= 50.896}{21325}{0, 0, 21100, 0, 62, 163, 0}{2}};
\node[dtbox, tint={2}{72}] (nrrrll) at (3162,5) {\splitlbl{M <= 181.865}{327}{0, 0, 254, 0, 10, 63, 0}{2}};
\node[dtbox, tint={5}{95}] (nrrrlll) at (3115,6) {\leaflbl{59}{0, 0, 2, 0, 0, 57, 0}{5}};
\node[dtbox, tint={2}{90}] (nrrrllr) at (3164,6) {\splitlbl{M <= 1177.9}{268}{0, 0, 252, 0, 10, 6, 0}{2}};
\node[dtbox, tint={2}{98}] (nrrrllrl) at (3146,7) {\leaflbl{258}{0, 0, 252, 0, 0, 6, 0}{2}};
\node[dtbox, tint={4}{100}] (nrrrllrr) at (3195,7) {\leaflbl{10}{0, 0, 0, 0, 10, 0, 0}{4}};
\node[dtbox, tint={2}{98}] (nrrrlr) at (3219,5) {\splitlbl{M <= 1356.55}{20998}{0, 0, 20846, 0, 52, 100, 0}{2}};
\node[dtbox, tint={2}{99}] (nrrrlrl) at (3219,6) {\leaflbl{20777}{0, 0, 20672, 0, 5, 100, 0}{2}};
\node[dtbox, tint={2}{65}] (nrrrlrr) at (3272,6) {\splitlbl{K <= 90.661}{221}{0, 0, 174, 0, 47, 0, 0}{2}};
\node[dtbox, tint={4}{98}] (nrrrlrrl) at (3241,7) {\leaflbl{42}{0, 0, 1, 0, 41, 0, 0}{4}};
\node[dtbox, tint={2}{97}] (nrrrlrrr) at (3289,7) {\leaflbl{179}{0, 0, 173, 0, 6, 0, 0}{2}};
\node[dtbox, tint={4}{52}] (nrrrr) at (3360,4) {\splitlbl{K <= 160.788}{353}{0, 12, 108, 0, 233, 0, 0}{4}};
\node[dtbox, tint={4}{85}] (nrrrrl) at (3360,5) {\splitlbl{M <= 3063.7}{227}{0, 9, 21, 0, 197, 0, 0}{4}};
\node[dtbox, tint={4}{85}] (nrrrrll) at (3338,6) {\splitlbl{K <= 97.821}{218}{0, 0, 21, 0, 197, 0, 0}{4}};
\node[dtbox, tint={4}{98}] (nrrrrlll) at (3339,7) {\leaflbl{161}{0, 0, 2, 0, 159, 0, 0}{4}};
\node[dtbox, tint={4}{45}] (nrrrrllr) at (3388,7) {\splitlbl{M <= 1775.8}{57}{0, 0, 19, 0, 38, 0, 0}{4}};
\node[dtbox, tint={2}{95}] (nrrrrllrl) at (3364,8) {\leaflbl{18}{0, 0, 17, 0, 1, 0, 0}{2}};
\node[dtbox, tint={4}{95}] (nrrrrllrr) at (3411,8) {\leaflbl{39}{0, 0, 2, 0, 37, 0, 0}{4}};
\node[dtbox, tint={1}{100}] (nrrrrlr) at (3387,6) {\leaflbl{9}{0, 9, 0, 0, 0, 0, 0}{1}};
\node[dtbox, tint={2}{45}] (nrrrrr) at (3433,5) {\splitlbl{M <= 2166.325}{121}{0, 3, 82, 0, 36, 0, 0}{2}};
\node[dtbox, tint={2}{95}] (nrrrrrl) at (3433,6) {\leaflbl{74}{0, 0, 74, 0, 0, 0, 0}{2}};
\node[dtbox, tint={4}{65}] (nrrrrrr) at (3480,6) {\splitlbl{K <= 121.186}{47}{0, 3, 8, 0, 36, 0, 0}{4}};
\node[dtbox, tint={4}{90}] (nrrrrrrl) at (3458,7) {\leaflbl{38}{0, 1, 2, 0, 35, 0, 0}{4}};
\node[dtbox, tint={2}{45}] (nrrrrrrr) at (3503,7) {\leaflbl{9}{0, 2, 6, 0, 1, 0, 0}{2}};

% edges: every split node has children \p l and \p r
\foreach \p in {n, nl, nll, nlll, nllll, nllllr, nllllrr, nllllrrl, nlllr, nlllrr, nllr, nllrl, nllrlr, nllrlrl, nllrlrll, nllrr, nllrrl, nllrrr, nlr, nlrl, nlrll, nlrr, nlrrl,
    nr, nrl, nrll, nrlll, nrllll, nrlllll, nrllllll, nrlllllll, nrlllllr, nrllllr, nrllllrr, nrlllr, nrlllrl, nrlllrll, nrlllrllr, nrlllrllrr, nrlllrllrrl, nrlllrllrrr, nrlllrlr, nrlllrlrl, nrlllrlrr, nrlllrlrrl, nrlllrr, nrlllrrl, nrlllrrll, nrlllrrlr, nrlllrrlrr, nrlllrrr, nrlllrrrl, nrllr, nrllrl, nrllrlr, nrllrr, nrllrrl, nrllrrll, nrllrrllr, nrllrrllrr,
    nrlr, nrlrl, nrlrll, nrlrlll, nrlrlllr, nrlrllr, nrlrllrl, nrlrllrll, nrlrllrlll, nrlrllrr, nrlrllrrl, nrlrlr, nrlrlrl, nrlrlrll, nrlrlrllr, nrlrlrllrl, nrlrlrllrlr, nrlrlrlr, nrlrlrlrl, nrlrlrlrlr, nrlrlrlrlrl, nrlrlrr, nrlrlrrl, nrlrlrrll, nrlrlrrlll, nrlrlrrllr, nrlrlrrllrr, nrlrlrrlr, nrlrlrrlrr, nrlrr, nrlrrl, nrlrrll, nrlrrllr, nrlrrllrl, nrlrrllrlr, nrlrrlr, nrlrrlrl, nrlrrlrll, nrlrrlrr, nrlrrlrrr, nrlrrlrrrl, nrlrrlrrrlr,
    nrr, nrrl, nrrll, nrrlll, nrrllll, nrrllllr, nrrlllr, nrrlllrl, nrrlllrll, nrrllr, nrrllrl, nrrllrlr, nrrllrlrl, nrrllrlrr, nrrllrlrrl, nrrllrlrrll, nrrllrr, nrrllrrr, nrrllrrrl, nrrlr, nrrlrl, nrrlrll, nrrlrlll, nrrlrllll, nrrlrlllll, nrrlrlllr, nrrlrlllrl, nrrlrlllrlr, nrrlrllr, nrrlrlr, nrrlrr, nrrlrrl, nrrlrrll, nrrlrrllr, nrrlrrr, nrrr, nrrrl, nrrrll, nrrrllr, nrrrlr, nrrrlrr, nrrrr, nrrrrl, nrrrrll, nrrrrllr, nrrrrr, nrrrrrr}
{
    \draw[dtedge] (\p) -- (\p l);
    \draw[dtedge] (\p) -- (\p r);
}

% edge labels at the root
\node[sidelbl, anchor=west] (tlbl) at (607,0.73) {True};
\node[sidelbl, anchor=east] (flbl) at (1343,0.70) {False};
\end{tikzpicture}
\end{document}
